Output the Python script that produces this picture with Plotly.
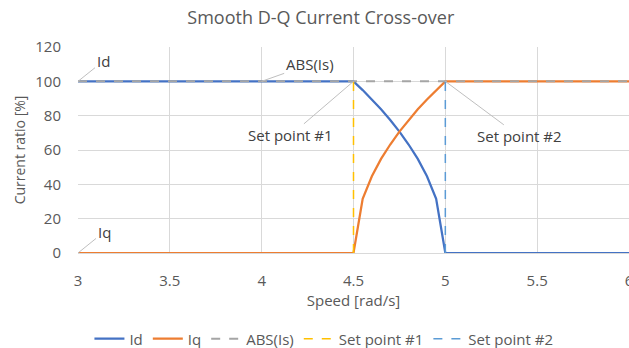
import plotly.graph_objects as go

speed = [3.0, 3.5, 4.0, 4.5, 4.55, 4.6, 4.65, 4.7, 4.75, 4.8, 4.85, 4.9, 4.95, 5.0, 5.5, 6.0]
id_vals = [100, 100, 100, 100, 94.9, 89.4, 83.7, 77.5, 70.7, 63.2, 54.8, 44.7, 31.6, 0, 0, 0]
iq_vals = [0, 0, 0, 0, 31.6, 44.7, 54.8, 63.2, 70.7, 77.5, 83.7, 89.4, 94.9, 100, 100, 100]
abs_x = [3.0, 4.0, 4.5, 5.0, 6.0]
abs_y = [100, 100, 100, 100, 100]
sp1_x = [4.5, 4.5]
sp1_y = [0, 100]
sp2_x = [5.0, 5.0]
sp2_y = [0, 100]

FONT = "Open Sans"
TXT = "#595959"

fig = go.Figure()
fig.add_trace(go.Scatter(x=speed, y=id_vals, mode="lines", name="Id",
                         line=dict(color="#4472C4", width=2.25)))
fig.add_trace(go.Scatter(x=speed, y=iq_vals, mode="lines", name="Iq",
                         line=dict(color="#ED7D31", width=2.25)))
fig.add_trace(go.Scatter(x=abs_x, y=abs_y, mode="lines", name="ABS(Is)",
                         line=dict(color="#A5A5A5", width=2, dash="dash")))
fig.add_trace(go.Scatter(x=sp1_x, y=sp1_y, mode="lines", name="Set point #1",
                         line=dict(color="#FFC000", width=1.5, dash="dash")))
fig.add_trace(go.Scatter(x=sp2_x, y=sp2_y, mode="lines", name="Set point #2",
                         line=dict(color="#5B9BD5", width=1.5, dash="dash")))

ann_font = dict(family=FONT, size=15, color="#404040")
labels = [
    ("Id", 3.0, 100, 25, -20),
    ("Iq", 3.0, 0, 26, -21),
    ("ABS(Is)", 4.0, 100, 48, -17),
    ("Set point #1", 4.5, 100, -63, 54),
    ("Set point #2", 5.0, 100, 74, 55),
]
for txt, x, y, ax, ay in labels:
    fig.add_annotation(x=x, y=y, text=txt, showarrow=True, arrowhead=0,
                       arrowwidth=1, arrowcolor="#BFBFBF", ax=ax, ay=ay,
                       font=ann_font, standoff=0)

fig.update_layout(
    width=629, height=348,
    margin=dict(l=78, r=0, t=47, b=95, autoexpand=False),
    paper_bgcolor="white", plot_bgcolor="white",
    title=dict(text="Smooth D-Q Current Cross-over", x=0.51, xref="container",
               xanchor="center", y=0.948, yanchor="middle",
               font=dict(family=FONT, size=18, color=TXT)),
    font=dict(family=FONT, color=TXT, size=15),
    legend=dict(orientation="h", xref="container", x=0.515, xanchor="center",
                yref="container", y=0.026, yanchor="middle",
                font=dict(family=FONT, size=15, color=TXT),
                itemwidth=30, tracegroupgap=0),
    showlegend=True,
)
fig.update_xaxes(range=[3, 6], dtick=0.5, tick0=3, showgrid=True,
                 gridcolor="#D9D9D9", gridwidth=1, zeroline=False, automargin=False,
                 showline=True, linecolor="#D9D9D9", ticklabeloverflow="allow",
                 ticks="", ticklabelstandoff=14, tickfont=dict(size=15, color=TXT),
                 title=dict(text="Speed [rad/s]", font=dict(size=15, color=TXT), standoff=6))
fig.update_yaxes(range=[0, 120], dtick=20, showgrid=True, gridcolor="#D9D9D9",
                 gridwidth=1, zeroline=False, showline=False, ticks="", automargin=False,
                 ticklabelstandoff=16, tickfont=dict(size=15, color=TXT),
                 title=dict(text="Current ratio [%]", font=dict(size=14, color=TXT), standoff=6))

fig.write_html("out.html")
